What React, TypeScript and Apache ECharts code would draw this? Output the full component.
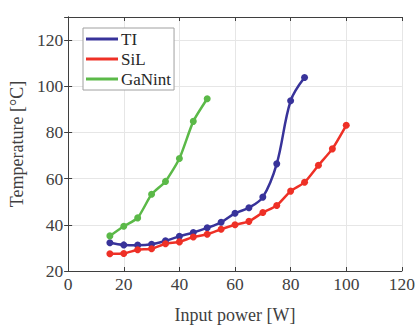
import React, { useEffect, useRef } from "react";
import * as echarts from "echarts";

const tiPower = [15, 20, 25, 30, 35, 40, 45, 50, 55, 60, 65, 70, 75, 80, 85];
const tiTemp = [32.2, 31.3, 31.2, 31.6, 33.1, 35, 36.7, 38.7, 41.1, 45, 47.4, 52, 66.4, 93.7, 103.8];

const silPower = [15, 20, 25, 30, 35, 40, 45, 50, 55, 60, 65, 70, 75, 80, 85, 90, 95, 100];
const silTemp = [27.5, 27.6, 29.2, 29.6, 31.8, 32.6, 34.7, 35.9, 38.1, 40, 41.5, 45.3, 48.4, 54.6, 58.4, 65.8, 72.9, 83.1];

const ganPower = [15, 20, 25, 30, 35, 40, 45, 50];
const ganTemp = [35.2, 39.4, 43, 53.2, 58.8, 68.7, 84.8, 94.6];

const xTicks = [0, 20, 40, 60, 80, 100, 120];
const yTicks = [20, 40, 60, 80, 100, 120];

const FONT = "'Liberation Serif', 'Times New Roman', serif";
const AXIS = "#3f3f3f";
const LABEL = "#404040";

export default function App() {
  const ref = useRef<HTMLDivElement>(null);
  useEffect(() => {
    if (!ref.current) return;
    const chart = echarts.init(ref.current, undefined, { renderer: "svg" });
    const zip = (xs: number[], ys: number[]) => xs.map((x, i) => [x, ys[i]]);
    const mk = (name: string, color: string, data: number[][], smooth: number) => ({
      name,
      type: "line",
      data,
      smooth,
      symbol: "circle",
      symbolSize: 7,
      lineStyle: { color, width: 2.5 },
      itemStyle: { color },
      color,
    });
    const yMaxTick = yTicks[yTicks.length - 1];
    chart.setOption({
      animation: false,
      backgroundColor: "#ffffff",
      textStyle: { fontFamily: FONT },
      grid: { left: 65.5, right: 13, top: 17, bottom: 57 },
      legend: {
        orient: "vertical",
        left: 83,
        top: 28,
        padding: [1, 3, 1, 3],
        itemGap: 0,
        itemWidth: 32,
        itemHeight: 3,
        icon: "rect",
        backgroundColor: "#ffffff",
        borderColor: "#a0a0a0",
        borderWidth: 1,
        borderRadius: 0,
        textStyle: { fontFamily: FONT, fontSize: 17, color: "#262626", lineHeight: 20, padding: [0, 0, 0, -2] },
        data: ["TI", "SiL", "GaNint"],
      },
      xAxis: [
        {
          type: "value",
          min: xTicks[0],
          max: xTicks[xTicks.length - 1],
          interval: 20,
          name: "Input power [W]",
          nameLocation: "middle",
          nameGap: 35,
          nameTextStyle: { fontFamily: FONT, fontSize: 18, color: LABEL },
          axisLine: { show: true, lineStyle: { color: AXIS, width: 1 } },
          axisTick: { show: true, inside: true, length: 4, lineStyle: { color: AXIS } },
          axisLabel: { fontFamily: FONT, fontSize: 17.5, color: LABEL, margin: 4 },
          splitLine: { show: true, lineStyle: { color: "#e6e6e6", width: 1 } },
        },
        {
          type: "value",
          position: "top",
          min: xTicks[0],
          max: xTicks[xTicks.length - 1],
          interval: 20,
          axisLine: { show: true, lineStyle: { color: AXIS, width: 1 } },
          axisTick: { show: true, inside: true, length: 4, lineStyle: { color: AXIS } },
          axisLabel: { show: false },
          splitLine: { show: false },
        },
      ],
      yAxis: [
        {
          type: "value",
          min: yTicks[0],
          max: 130,
          interval: 20,
          name: "Temperature [°C]",
          nameLocation: "middle",
          nameGap: 38,
          nameTextStyle: { fontFamily: FONT, fontSize: 18, color: LABEL },
          axisLine: { show: true, lineStyle: { color: AXIS, width: 1 } },
          axisTick: { show: true, inside: true, length: 4, lineStyle: { color: AXIS } },
          axisLabel: {
            fontFamily: FONT,
            fontSize: 17.5,
            color: LABEL,
            margin: 5,
            formatter: (v: number) => (v > yMaxTick ? "" : String(v)),
          },
          splitLine: { show: true, lineStyle: { color: "#e6e6e6", width: 1 } },
        },
        {
          type: "value",
          position: "right",
          min: yTicks[0],
          max: 130,
          interval: 20,
          axisLine: { show: true, lineStyle: { color: AXIS, width: 1 } },
          axisTick: { show: true, inside: true, length: 4, lineStyle: { color: AXIS } },
          axisLabel: { show: false },
          splitLine: { show: false },
        },
      ],
      series: [
        mk("TI", "#38339a", zip(tiPower, tiTemp), 0.35),
        mk("SiL", "#ee3026", zip(silPower, silTemp), 0.2),
        mk("GaNint", "#5bb948", zip(ganPower, ganTemp), 0.2),
      ],
    });
    return () => chart.dispose();
  }, []);
  return (
    <div style={{ position: "fixed", left: 0, top: 0, width: 418, height: 329, background: "#fff" }}>
      <div ref={ref} style={{ width: 418, height: 329 }} />
    </div>
  );
}
